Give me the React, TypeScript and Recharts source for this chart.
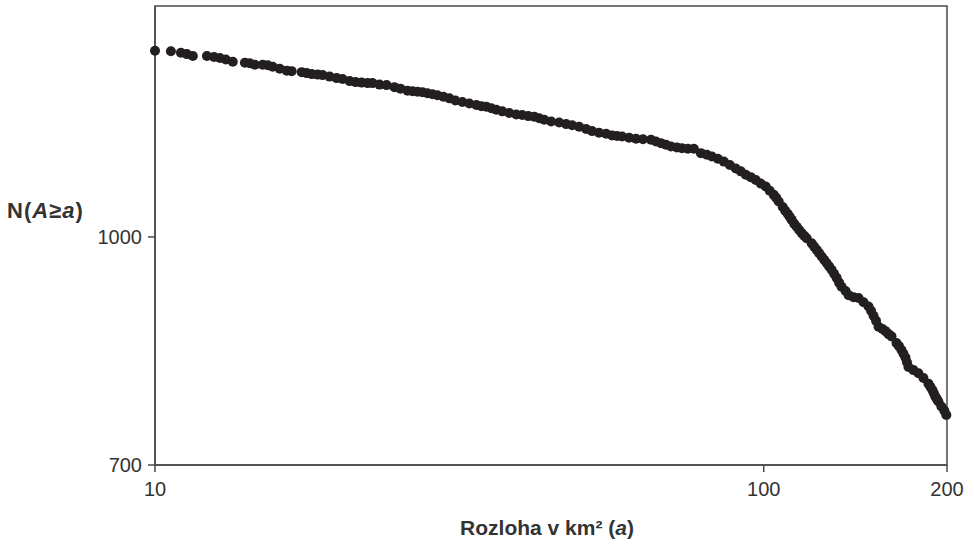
import React from "react";
import {
  Label,
  ReferenceArea,
  Scatter,
  ScatterChart,
  XAxis,
  YAxis,
} from "recharts";

// plocha jezer (km²) a kumulativní počet N(A ≥ a)
const areas = [
  10.0, 10.62, 11.03, 11.28, 11.54, 12.17, 12.5, 12.78, 13.07, 13.42, 14.05, 14.31,
  14.59, 15.03, 15.32, 15.61, 16.03, 16.46, 16.77, 17.42, 17.75, 18.09, 18.5, 18.85,
  19.36, 19.88, 20.33, 20.88, 21.36, 21.85, 22.35, 22.77, 23.38, 24.01, 24.74, 25.31,
  25.99, 26.48, 26.99, 27.5, 28.02, 28.56, 29.1, 29.77, 30.45, 31.15, 31.98, 32.84,
  33.72, 34.36, 35.01, 35.68, 36.36, 37.2, 38.19, 39.21, 40.11, 41.03, 41.97, 42.77,
  43.59, 44.75, 46.12, 47.36, 48.45, 49.74, 51.07, 52.24, 53.64, 55.08, 56.34, 57.41,
  58.51, 60.08, 61.68, 63.33, 65.28, 66.52, 67.79, 69.08, 70.4, 72.01, 73.38, 75.06,
  76.78, 78.84, 80.64, 82.18, 84.06, 85.99, 87.96, 89.97, 91.69, 93.43, 95.21, 97.03,
  98.9, 100.76, 102.29, 103.85, 104.83, 105.83, 107.44, 108.45, 109.47, 110.31, 111.16,
  112.2, 113.28, 114.34, 115.43, 116.52, 117.62, 119.87, 121.0, 122.15, 123.31, 124.48,
  125.66, 126.85, 128.05, 129.27, 130.49, 131.73, 132.98, 134.24, 136.28, 137.83, 140.46,
  143.13, 145.86, 148.64, 150.05, 151.47, 152.91, 154.36, 156.7, 158.49, 160.3, 162.12,
  165.21, 166.78, 168.36, 169.64, 170.92, 171.89, 172.87, 176.16, 179.52, 182.94, 186.42,
  187.83, 189.26, 190.33, 191.41, 192.5, 193.59, 195.79, 198.02, 199.5,
];

const counts = [
  1338, 1337, 1334, 1331, 1327, 1327, 1325, 1323, 1320, 1315, 1313, 1312,
  1309, 1309, 1308, 1305, 1301, 1297, 1296, 1294, 1292, 1290, 1289, 1288,
  1285, 1282, 1280, 1276, 1274, 1273, 1272, 1272, 1269, 1268, 1264, 1261,
  1257, 1256, 1255, 1254, 1252, 1250, 1248, 1245, 1242, 1238, 1235, 1232,
  1229, 1227, 1226, 1223, 1220, 1217, 1214, 1211, 1210, 1208, 1207, 1204,
  1201, 1198, 1196, 1193, 1191, 1188, 1184, 1180, 1177, 1175, 1172, 1171,
  1170, 1168, 1166, 1165, 1164, 1161, 1158, 1155, 1152, 1150, 1149, 1148,
  1148, 1140, 1137, 1134, 1130, 1125, 1119, 1113, 1108, 1102, 1098, 1093,
  1087, 1082, 1075, 1068, 1063, 1057, 1048, 1042, 1037, 1032, 1027,
  1021, 1016, 1011, 1006, 1002, 998, 990, 985, 980, 975, 970,
  965, 960, 955, 950, 944, 938, 931, 925, 919, 913, 910,
  909, 903, 897, 891, 884, 877, 869, 866, 863, 859, 856,
  847, 843, 838, 833, 828, 822, 816, 812, 808, 802, 795,
  791, 787, 783, 779, 776, 773, 767, 762, 757,
];

const xTicks = [10, 100, 200];
const yTicks = [700, 1000];
const xDomain = [10, 200];
const yDomain = [700, 1435];

const data = areas.map((a, i) => ({ a, n: counts[i] }));

const font = "'Liberation Sans', Arial, Helvetica, sans-serif";
const ink = "#231f20";
const axisColor = "#4a4a4a";

const Dot = (props: any) => (
  <circle cx={props.cx} cy={props.cy} r={5} fill={ink} />
);

export default function App() {
  return (
    <div style={{ width: 974, height: 551, background: "#fff" }}>
      <style>{"body{margin:0}"}</style>
      <ScatterChart
        width={974}
        height={551}
        margin={{ top: 6, right: 27, bottom: 0, left: 0 }}
      >
        <XAxis
          type="number"
          dataKey="a"
          scale="log"
          domain={xDomain}
          ticks={xTicks}
          height={86}
          tickSize={7}
          tickMargin={10}
          stroke={axisColor}
          strokeWidth={1.5}
          tick={{ fill: "#333", fontSize: 20, fontFamily: font }}
        >
          <Label
            content={() => (
              <text
                x={547}
                y={535}
                textAnchor="middle"
                fontFamily={font}
                fontSize={21}
                fontWeight="bold"
                fill="#333"
              >
                Rozloha v km² (<tspan fontStyle="italic">a</tspan>)
              </text>
            )}
          />
        </XAxis>
        <YAxis
          type="number"
          dataKey="n"
          scale="log"
          domain={yDomain}
          ticks={yTicks}
          width={155}
          tickSize={7}
          tickMargin={6}
          stroke={axisColor}
          strokeWidth={1.5}
          tick={{ fill: "#333", fontSize: 20, fontFamily: font }}
        >
          <Label
            content={() => (
              <text
                x={7}
                y={218}
                textAnchor="start"
                fontFamily={font}
                fontSize={22}
                fontWeight="bold"
                letterSpacing={1}
                fill="#333"
              >
                N(<tspan fontStyle="italic">A</tspan>≥<tspan fontStyle="italic">a</tspan>)
              </text>
            )}
          />
        </YAxis>
        <ReferenceArea
          x1={xDomain[0]}
          x2={xDomain[1]}
          y1={yDomain[0]}
          y2={yDomain[1]}
          fill="none"
          stroke={axisColor}
          strokeWidth={1.5}
        />
        <Scatter data={data} shape={Dot} isAnimationActive={false} />
      </ScatterChart>
    </div>
  );
}
